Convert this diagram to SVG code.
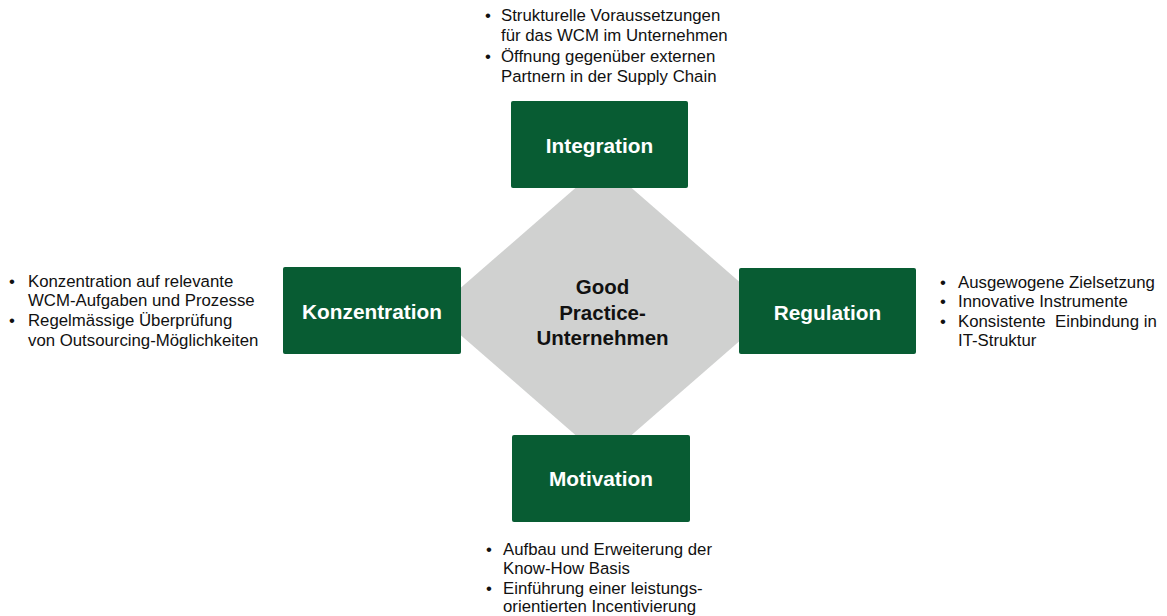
<svg xmlns="http://www.w3.org/2000/svg" width="1167" height="616" viewBox="0 0 1167 616">
<style>
.box{fill:#085c33;}
.lbl{font-family:"Liberation Sans",Arial,sans-serif;font-weight:bold;font-size:20.8px;fill:#ffffff;text-anchor:middle;}
.ctr{font-family:"Liberation Sans",Arial,sans-serif;font-weight:bold;font-size:20.5px;fill:#111111;text-anchor:middle;}
.txt{font-family:"Liberation Sans",Arial,sans-serif;font-size:16.8px;fill:#111111;white-space:pre;}
</style>
<rect width="1167" height="616" fill="#ffffff"/>
<g id="center">
<polygon points="603.5,163.5 773.5,311.5 603.5,459.5 433.5,311.5" fill="#d0d1d0"/>
<text class="ctr" x="602.5" y="294">Good</text>
<text class="ctr" x="602.5" y="319.5">Practice-</text>
<text class="ctr" x="602.5" y="345">Unternehmen</text>
</g>
<g id="connectors"></g>
<g id="integration">
<rect class="box" x="511" y="101" width="177" height="87" rx="2"/>
<text class="lbl" x="599.5" y="153">Integration</text>
</g>
<g id="konzentration">
<rect class="box" x="283" y="267" width="178" height="87" rx="2"/>
<text class="lbl" x="372" y="318.5">Konzentration</text>
</g>
<g id="regulation">
<rect class="box" x="739" y="268" width="177" height="86" rx="2"/>
<text class="lbl" x="827.5" y="320">Regulation</text>
</g>
<g id="motivation">
<rect class="box" x="512" y="435" width="178" height="87" rx="2"/>
<text class="lbl" x="601" y="486">Motivation</text>
</g>
<g id="notes-top">
<text class="txt" x="485" y="21">•</text>
<text class="txt" x="501" y="21">Strukturelle Voraussetzungen</text>
<text class="txt" x="501" y="41">für das WCM im Unternehmen</text>
<text class="txt" x="485" y="62">•</text>
<text class="txt" x="501" y="62">Öffnung gegenüber externen</text>
<text class="txt" x="501" y="82">Partnern in der Supply Chain</text>
</g>
<g id="notes-left">
<text class="txt" x="9" y="286.5">•</text>
<text class="txt" x="28" y="286.5">Konzentration auf relevante</text>
<text class="txt" x="28" y="306">WCM-Aufgaben und Prozesse</text>
<text class="txt" x="9" y="326">•</text>
<text class="txt" x="28" y="326">Regelmässige Überprüfung</text>
<text class="txt" x="28" y="345.5">von Outsourcing-Möglichkeiten</text>
</g>
<g id="notes-right">
<text class="txt" x="940" y="287.5">•</text>
<text class="txt" x="958" y="287.5">Ausgewogene Zielsetzung</text>
<text class="txt" x="940" y="307">•</text>
<text class="txt" x="958" y="307">Innovative Instrumente</text>
<text class="txt" x="940" y="326.5">•</text>
<text class="txt" x="958" y="326.5">Konsistente  Einbindung in</text>
<text class="txt" x="958" y="346">IT-Struktur</text>
</g>
<g id="notes-bottom">
<text class="txt" x="486" y="555">•</text>
<text class="txt" x="503" y="555">Aufbau und Erweiterung der</text>
<text class="txt" x="503" y="573.5">Know-How Basis</text>
<text class="txt" x="486" y="593.5">•</text>
<text class="txt" x="503" y="593.5">Einführung einer leistungs-</text>
<text class="txt" x="503" y="612">orientierten Incentivierung</text>
</g>
</svg>
